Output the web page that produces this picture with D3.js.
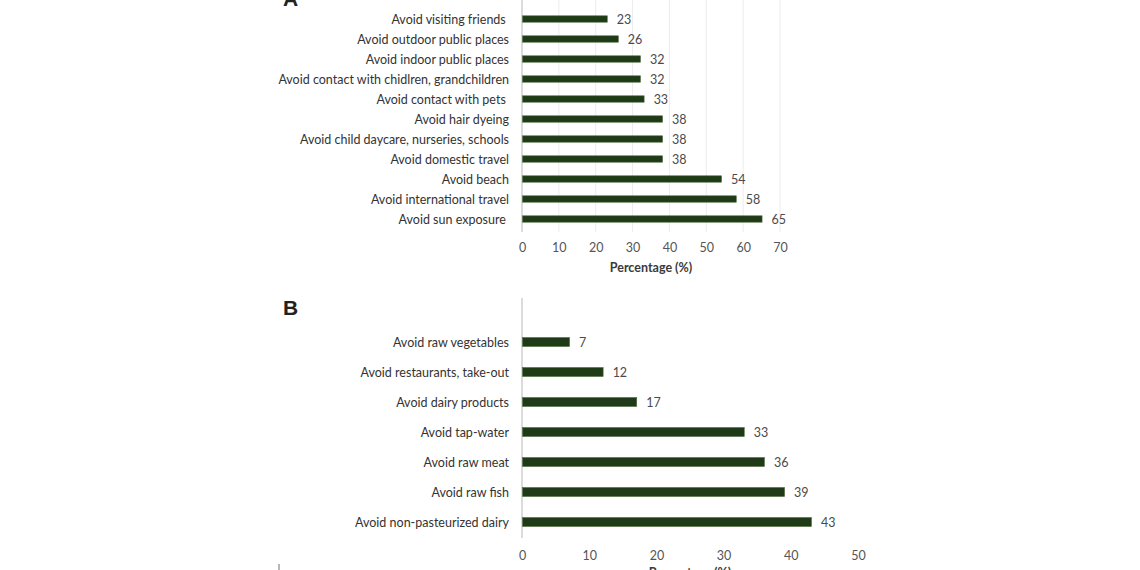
<!DOCTYPE html>
<html>
<head>
<meta charset="utf-8">
<script src="https://cdn.jsdelivr.net/npm/d3@7"></script>
<style>
  html, body { margin: 0; padding: 0; background: #fff; }
  svg { display: block; }
  text { font-family: Lato, "Liberation Sans", sans-serif; }
</style>
</head>
<body>
<svg id="chart" width="1140" height="570"></svg>
<script>
// Panel A - activities
const catsA = ['Avoid visiting friends\u00a0', 'Avoid outdoor public places', 'Avoid indoor public places',
  'Avoid contact with chidlren, grandchildren', 'Avoid contact with pets\u00a0', 'Avoid hair dyeing',
  'Avoid child daycare, nurseries, schools', 'Avoid domestic travel', 'Avoid beach',
  'Avoid international travel', 'Avoid sun exposure\u00a0'];
const valsA = [23, 26, 32, 32, 33, 38, 38, 38, 54, 58, 65];
const ticksA = [0, 10, 20, 30, 40, 50, 60, 70];

// Panel B - food / water
const catsB = ['Avoid raw vegetables', 'Avoid restaurants, take-out', 'Avoid dairy products',
  'Avoid tap-water', 'Avoid raw meat', 'Avoid raw fish', 'Avoid non-pasteurized dairy'];
const valsB = [7, 12, 17, 33, 36, 39, 43];
const ticksB = [0, 10, 20, 30, 40, 50];

const svg = d3.select('#chart');
const barFill = '#1f3a16', barStroke = '#4f6d40';
const fs = '12.5px';

function panel(cfg) {
  const g = svg.append('g');
  const x = d3.scaleLinear().domain([0, d3.max(cfg.ticks)]).range([522, cfg.xEnd]);
  const y = d3.scaleBand().domain(cfg.cats).range(cfg.yRange)
    .paddingInner(cfg.pad).paddingOuter(cfg.pad / 2);

  if (cfg.grid) {
    g.selectAll('line.grid').data(cfg.ticks.slice(1)).enter().append('line')
      .attr('x1', d => x(d)).attr('x2', d => x(d))
      .attr('y1', cfg.axisY[0]).attr('y2', cfg.axisY[1])
      .attr('stroke', '#ececec').attr('stroke-width', 1);
  }
  g.append('line')
    .attr('x1', x(0)).attr('x2', x(0)).attr('y1', cfg.axisY[0]).attr('y2', cfg.axisY[1])
    .attr('stroke', '#c4c4c4').attr('stroke-width', 1.2);

  const rows = cfg.cats.map((c, i) => ({ cat: c, val: cfg.vals[i] }));
  g.selectAll('rect').data(rows).enter().append('rect')
    .attr('x', x(0) + 0.5).attr('y', d => y(d.cat))
    .attr('width', d => x(d.val) - x(0)).attr('height', y.bandwidth())
    .attr('fill', barFill).attr('stroke', barStroke).attr('stroke-width', 0.6);

  g.selectAll('text.val').data(rows).enter().append('text')
    .attr('x', d => x(d.val) + 10).attr('y', d => y(d.cat) + y.bandwidth() / 2 + 4.5)
    .style('font-size', fs).attr('fill', '#4a4a4a').text(d => d.val);

  g.selectAll('text.cat').data(rows).enter().append('text')
    .attr('x', 509).attr('y', d => y(d.cat) + y.bandwidth() / 2 + 4.5)
    .attr('text-anchor', 'end').style('font-size', fs).style('white-space', 'pre')
    .attr('fill', '#333').text(d => d.cat);

  const axis = d3.axisBottom(x).tickValues(cfg.ticks).tickSize(0).tickPadding(0);
  const ax = g.append('g').attr('transform', `translate(0,${cfg.tickY})`).call(axis);
  ax.select('.domain').remove();
  ax.selectAll('text').style('font-size', fs).attr('fill', '#555')
    .style('font-family', 'Lato, "Liberation Sans", sans-serif').attr('dy', 0);

  g.append('text').attr('x', (x.range()[0] + x.range()[1]) / 2).attr('y', cfg.titleY)
    .attr('text-anchor', 'middle').style('font-size', fs).style('font-weight', 'bold')
    .attr('fill', '#3a3a3a').text('Percentage (%)');

  g.append('text').attr('x', 283).attr('y', cfg.letterY)
    .style('font-family', '"Liberation Sans", Arial, sans-serif')
    .style('font-size', '21px').style('font-weight', 'bold').attr('fill', '#222').text(cfg.letter);
}

panel({ cats: catsA, vals: valsA, ticks: ticksA, xEnd: 780, yRange: [9, 229], pad: 0.68,
  axisY: [0, 232], grid: true, tickY: 252, titleY: 272, letter: 'A', letterY: 6 });
panel({ cats: catsB, vals: valsB, ticks: ticksB, xEnd: 858, yRange: [327, 537], pad: 0.7,
  axisY: [298, 538], grid: false, tickY: 560, titleY: 577, letter: 'B', letterY: 315 });

// stray edge of the next panel at the bottom
svg.append('line').attr('x1', 279).attr('x2', 279).attr('y1', 564).attr('y2', 570)
  .attr('stroke', '#888').attr('stroke-width', 1.2);
</script>
</body>
</html>
